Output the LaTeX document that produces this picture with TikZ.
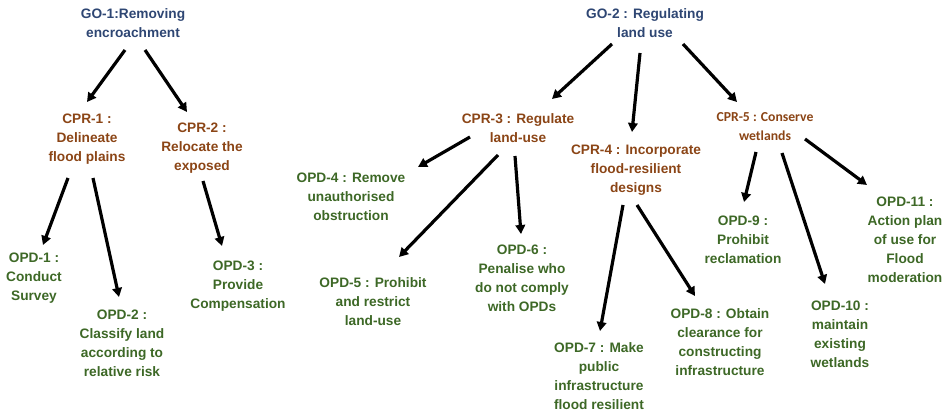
\documentclass[tikz,border=0pt]{standalone}
\usepackage{fontspec}
\setmainfont{Liberation Sans}
\newfontfamily\carl{Carlito}
\usetikzlibrary{arrows.meta}
\definecolor{goblue}{HTML}{2E4673}
\definecolor{cprbrown}{HTML}{8B4516}
\definecolor{opdgreen}{HTML}{3D6826}
\begin{document}
\begin{tikzpicture}[x=1pt,y=-1pt,
  lbl/.style={align=center,inner sep=0pt,font=\fontsize{13.7}{19}\selectfont\bfseries},
  gotext/.style={lbl,text=goblue},
  cprtext/.style={lbl,text=cprbrown},
  cprcal/.style={align=center,inner sep=0pt,font=\carl\fontsize{13.7}{19}\selectfont\bfseries,text=cprbrown},
  opdtext/.style={lbl,text=opdgreen},
  arr/.style={line width=3.2pt,-{Triangle[length=9pt,width=9.5pt]}}]
\useasboundingbox (0,0) rectangle (949,417);
% goals
\node[gotext] (go1) at (133,23) {GO-1:Removing\\encroachment};
\node[gotext] (go2) at (645,23) {GO-2 : Regulating\\land use};
% CPRs
\node[cprtext] (cpr1) at (87,139) {CPR-1 :\\Delineate\\flood plains};
\node[cprtext] (cpr2) at (202,148) {CPR-2 :\\Relocate the\\exposed};
\node[cprtext] (cpr3) at (518,128) {CPR-3 : Regulate\\land-use};
\node[cprtext] (cpr4) at (636,170) {CPR-4 : Incorporate\\flood-resilient\\designs};
\node[cprcal] (cpr5) at (765,127) {CPR-5 : Conserve\\wetlands};
% OPDs
\node[opdtext] (opd1) at (34,278) {OPD-1 :\\Conduct\\Survey};
\node[opdtext] (opd2) at (122,343) {OPD-2 :\\Classify land\\according to\\relative risk};
\node[opdtext] (opd3) at (238,286) {OPD-3 :\\Provide\\Compensation};
\node[opdtext] (opd4) at (351,197) {OPD-4 : Remove\\unauthorised\\obstruction};
\node[opdtext] (opd5) at (373,302) {OPD-5 : Prohibit\\and restrict\\land-use};
\node[opdtext] (opd6) at (522,278) {OPD-6 :\\Penalise who\\do not comply\\with OPDs};
\node[opdtext] (opd7) at (599,376) {OPD-7 : Make\\public\\infrastructure\\flood resilient};
\node[opdtext] (opd8) at (720,342) {OPD-8 : Obtain\\clearance for\\constructing\\infrastructure};
\node[opdtext] (opd9) at (743,240) {OPD-9 :\\Prohibit\\reclamation};
\node[opdtext] (opd10) at (840,334) {OPD-10 :\\maintain\\existing\\wetlands};
\node[opdtext] (opd11) at (905,240) {OPD-11 :\\Action plan\\of use for\\Flood\\moderation};
% connectors
\draw[arr] ([shift={(-8,27)}]go1.center) -- ([shift={(0,-37)}]cpr1.center);
\draw[arr] ([shift={(12,27)}]go1.center) -- ([shift={(-15,-36)}]cpr2.center);
\draw[arr] ([shift={(-19,39)}]cpr1.center) -- ([shift={(9,-33)}]opd1.center);
\draw[arr] ([shift={(6,39)}]cpr1.center) -- ([shift={(-3,-46)}]opd2.center);
\draw[arr] ([shift={(1,33)}]cpr2.center) -- ([shift={(-16,-40)}]opd3.center);
\draw[arr] ([shift={(-33,21)}]go2.center) -- ([shift={(34,-29)}]cpr3.center);
\draw[arr] ([shift={(-5,30)}]go2.center) -- ([shift={(-4,-38)}]cpr4.center);
\draw[arr] ([shift={(38,21)}]go2.center) -- ([shift={(-28,-25)}]cpr5.center);
\draw[arr] ([shift={(-48,9)}]cpr3.center) -- ([shift={(67,-30)}]opd4.center);
\draw[arr] ([shift={(-20,27)}]cpr3.center) -- ([shift={(26,-45)}]opd5.center);
\draw[arr] ([shift={(-3,28)}]cpr3.center) -- ([shift={(-1,-44)}]opd6.center);
\draw[arr] ([shift={(-13,35)}]cpr4.center) -- ([shift={(1,-45)}]opd7.center);
\draw[arr] ([shift={(1,35)}]cpr4.center) -- ([shift={(-25,-46)}]opd8.center);
\draw[arr] ([shift={(-9,25)}]cpr5.center) -- ([shift={(1,-38)}]opd9.center);
\draw[arr] ([shift={(17,26)}]cpr5.center) -- ([shift={(-15,-50)}]opd10.center);
\draw[arr] ([shift={(40,12)}]cpr5.center) -- ([shift={(-38,-55)}]opd11.center);
\end{tikzpicture}
\end{document}
